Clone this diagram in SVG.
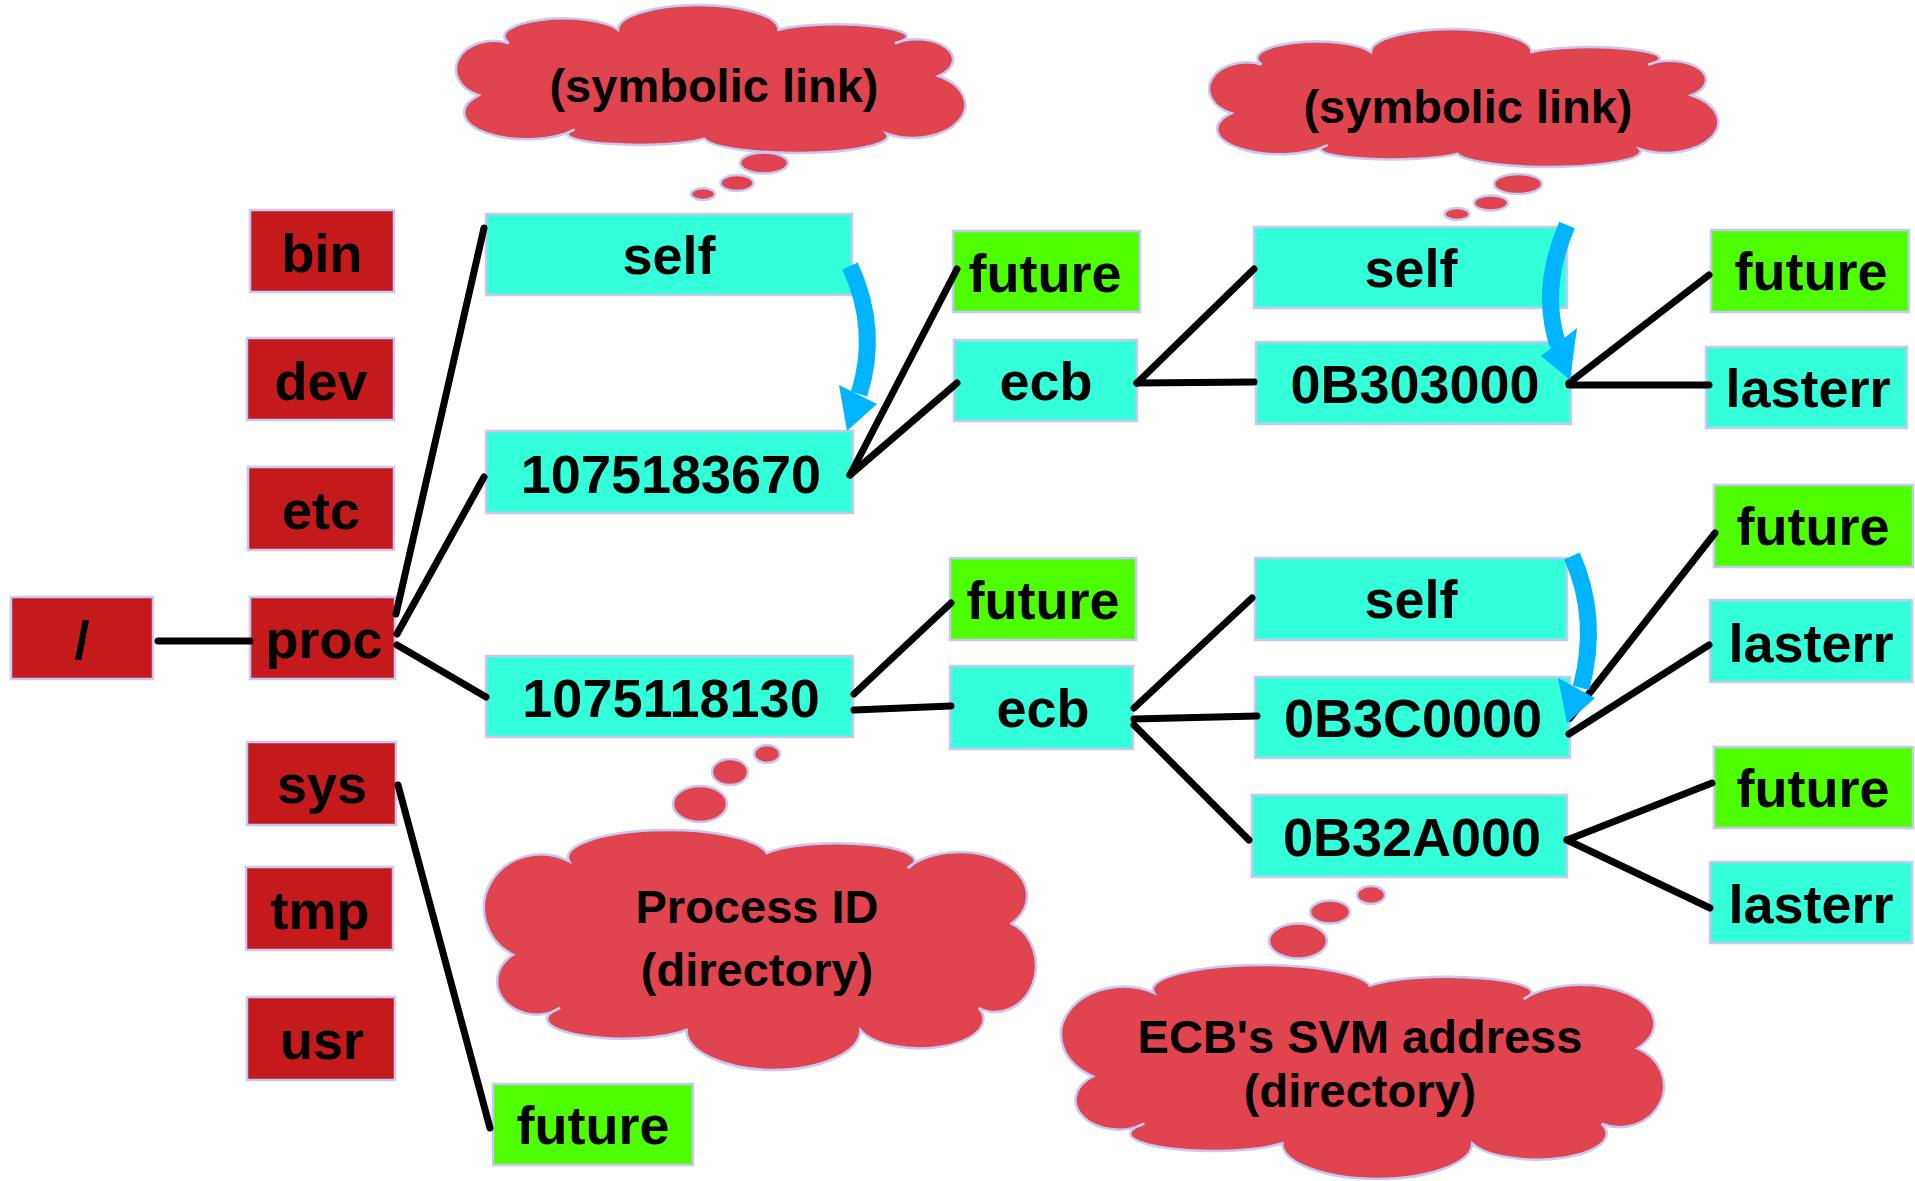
<svg xmlns="http://www.w3.org/2000/svg" width="1915" height="1181" viewBox="0 0 1915 1181">
<style>
.box{stroke:#C8C8F6;stroke-width:2.5}
.red{fill:#C41A1C}
.cyan{fill:#33FFD9}
.green{fill:#4DFF00}
.lbl{font-family:"Liberation Sans",Arial,sans-serif;font-weight:bold;font-size:54px;text-anchor:middle;fill:#000}
.ctext{font-family:"Liberation Sans",Arial,sans-serif;font-weight:bold;font-size:47px;text-anchor:middle;fill:#000}
.cloud{fill:#E0444F;stroke:#C8C8F6;stroke-width:2.5}
.conn line{stroke:#000;stroke-width:7;stroke-linecap:round}
.shaft{fill:none;stroke:#00B4FF;stroke-width:17}
.head{fill:#00B4FF}
</style>
<defs>
<path id="cloudShape" vector-effect="non-scaling-stroke" d="M94.2 28.6 A107.8 24.8 0 0 1 308.4 21.3 A83.7 15.9 0 0 1 460.8 34.8 A72.8 39.8 0 0 1 573.6 85.8 A43.9 42 0 0 1 538.2 163.2 A68.9 26.8 0 0 1 409.8 183.3 A93.7 36.5 0 0 1 221.4 183.3 A82 17.9 0 0 1 84.6 163.2 A42.4 30.2 0 0 1 33.6 114.4 A61.7 49 0 0 1 94.2 28.6 Z"/>
</defs>
<rect width="1915" height="1181" fill="#fff"/>

<g id="cloud-symlink-1">
<use href="#cloudShape" class="cloud" transform="translate(967 153) scale(-0.85167 -0.67273)"/>
<ellipse class="cloud" cx="764" cy="163" rx="24" ry="10.5"/>
<ellipse class="cloud" cx="737" cy="183" rx="16.5" ry="8"/>
<ellipse class="cloud" cx="703" cy="194" rx="12" ry="6"/>
<text class="ctext" x="714" y="102">(symbolic link)</text>
</g>
<g id="cloud-symlink-2">
<use href="#cloudShape" class="cloud" transform="translate(1720 167) scale(-0.85167 -0.62727)"/>
<ellipse class="cloud" cx="1518" cy="184" rx="24" ry="10"/>
<ellipse class="cloud" cx="1491" cy="203" rx="17" ry="7.5"/>
<ellipse class="cloud" cx="1457" cy="214" rx="12.5" ry="6"/>
<text class="ctext" x="1468" y="123">(symbolic link)</text>
</g>
<g id="cloud-pid">
<use href="#cloudShape" class="cloud" transform="translate(482 830) scale(0.92333 1.09091)"/>
<ellipse class="cloud" cx="767" cy="754" rx="13" ry="9"/>
<ellipse class="cloud" cx="730" cy="772" rx="18" ry="13"/>
<ellipse class="cloud" cx="700" cy="804" rx="27" ry="18"/>
<text class="ctext" x="757" y="923">Process ID</text>
<text class="ctext" x="757" y="986">(directory)</text>
</g>
<g id="cloud-ecb">
<use href="#cloudShape" class="cloud" transform="translate(1059 965) scale(1.00833 0.97273)"/>
<ellipse class="cloud" cx="1371" cy="895" rx="14" ry="9"/>
<ellipse class="cloud" cx="1330" cy="912" rx="20" ry="11.5"/>
<ellipse class="cloud" cx="1298" cy="941" rx="29" ry="17.5"/>
<text class="ctext" x="1360" y="1053">ECB's SVM address</text>
<text class="ctext" x="1360" y="1107">(directory)</text>
</g>

<g id="node-root"><rect class="box red" x="11" y="597" width="142" height="82"/><text class="lbl" x="82" y="659">/</text></g>
<g id="node-bin"><rect class="box red" x="250" y="210" width="144" height="82"/><text class="lbl" x="322" y="272">bin</text></g>
<g id="node-dev"><rect class="box red" x="247" y="338" width="147" height="82"/><text class="lbl" x="321" y="400">dev</text></g>
<g id="node-etc"><rect class="box red" x="248" y="467" width="146" height="83"/><text class="lbl" x="321" y="529">etc</text></g>
<g id="node-proc"><rect class="box red" x="250" y="597" width="145" height="82"/><text class="lbl" x="324" y="658">proc</text></g>
<g id="node-sys"><rect class="box red" x="247" y="742" width="149" height="83"/><text class="lbl" x="322" y="803">sys</text></g>
<g id="node-tmp"><rect class="box red" x="246" y="867" width="147" height="83"/><text class="lbl" x="320" y="929">tmp</text></g>
<g id="node-usr"><rect class="box red" x="247" y="997" width="148" height="83"/><text class="lbl" x="322" y="1059">usr</text></g>

<g id="node-self-1"><rect class="box cyan" x="486" y="214" width="366" height="81"/><text class="lbl" x="669" y="274">self</text></g>
<g id="node-pid-1"><rect class="box cyan" x="486" y="431" width="367" height="82"/><text class="lbl" x="671" y="493">1075183670</text></g>
<g id="node-pid-2"><rect class="box cyan" x="486" y="656" width="367" height="81"/><text class="lbl" x="671" y="717">1075118130</text></g>
<g id="node-sys-future"><rect class="box green" x="493" y="1084" width="200" height="81"/><text class="lbl" x="593" y="1144">future</text></g>

<g id="node-future-a"><rect class="box green" x="953" y="231" width="187" height="81"/><text class="lbl" x="1045" y="292">future</text></g>
<g id="node-ecb-a"><rect class="box cyan" x="954" y="340" width="183" height="81"/><text class="lbl" x="1046" y="400">ecb</text></g>
<g id="node-future-b"><rect class="box green" x="950" y="558" width="186" height="82"/><text class="lbl" x="1043" y="619">future</text></g>
<g id="node-ecb-b"><rect class="box cyan" x="950" y="666" width="183" height="83"/><text class="lbl" x="1043" y="727">ecb</text></g>

<g id="node-self-a"><rect class="box cyan" x="1254" y="227" width="313" height="81"/><text class="lbl" x="1411" y="287">self</text></g>
<g id="node-addr-a"><rect class="box cyan" x="1256" y="342" width="315" height="82"/><text class="lbl" x="1415" y="403">0B303000</text></g>
<g id="node-self-b"><rect class="box cyan" x="1255" y="558" width="312" height="82"/><text class="lbl" x="1411" y="618">self</text></g>
<g id="node-addr-b"><rect class="box cyan" x="1255" y="677" width="315" height="81"/><text class="lbl" x="1413" y="737">0B3C0000</text></g>
<g id="node-addr-c"><rect class="box cyan" x="1252" y="795" width="315" height="82"/><text class="lbl" x="1412" y="856">0B32A000</text></g>

<g id="node-future-c"><rect class="box green" x="1711" y="230" width="198" height="82"/><text class="lbl" x="1811" y="290">future</text></g>
<g id="node-lasterr-a"><rect class="box cyan" x="1706" y="347" width="201" height="81"/><text class="lbl" x="1808" y="407">lasterr</text></g>
<g id="node-future-d"><rect class="box green" x="1714" y="485" width="199" height="82"/><text class="lbl" x="1813" y="545">future</text></g>
<g id="node-lasterr-b"><rect class="box cyan" x="1710" y="600" width="202" height="82"/><text class="lbl" x="1811" y="662">lasterr</text></g>
<g id="node-future-e"><rect class="box green" x="1714" y="747" width="199" height="81"/><text class="lbl" x="1813" y="807">future</text></g>
<g id="node-lasterr-c"><rect class="box cyan" x="1710" y="862" width="202" height="81"/><text class="lbl" x="1811" y="923">lasterr</text></g>

<g id="connectors" class="conn">
<line x1="158" y1="641" x2="250" y2="641"/>
<line x1="396" y1="614" x2="484" y2="228"/>
<line x1="397" y1="634" x2="484" y2="477"/>
<line x1="397" y1="645" x2="486" y2="697"/>
<line x1="398" y1="785" x2="490" y2="1128"/>
<line x1="850" y1="475" x2="957" y2="269"/>
<line x1="850" y1="475" x2="957" y2="383"/>
<line x1="854" y1="694" x2="951" y2="603"/>
<line x1="854" y1="710" x2="951" y2="706"/>
<line x1="1137" y1="383" x2="1254" y2="269"/>
<line x1="1137" y1="383" x2="1254" y2="382"/>
<line x1="1569" y1="383" x2="1709" y2="275"/>
<line x1="1569" y1="385" x2="1709" y2="385"/>
<line x1="1134" y1="708" x2="1252" y2="598"/>
<line x1="1134" y1="719" x2="1257" y2="716"/>
<line x1="1134" y1="725" x2="1249" y2="840"/>
<line x1="1570" y1="718" x2="1715" y2="533"/>
<line x1="1569" y1="734" x2="1709" y2="645"/>
<line x1="1567" y1="840" x2="1712" y2="783"/>
<line x1="1567" y1="840" x2="1710" y2="908"/>
</g>

<g id="symlink-arrows">
<path class="shaft" d="M850 266 Q879.5 330 859 394"/>
<polygon class="head" points="839,385 877,404 847,431"/>
<path class="shaft" d="M1567 225 Q1539.5 289 1558 345"/>
<polygon class="head" points="1541,356 1577,328 1570,380"/>
<path class="shaft" d="M1572 556 Q1599.5 618 1581 688"/>
<polygon class="head" points="1558,678 1595,698 1567,723"/>
</g>
</svg>
